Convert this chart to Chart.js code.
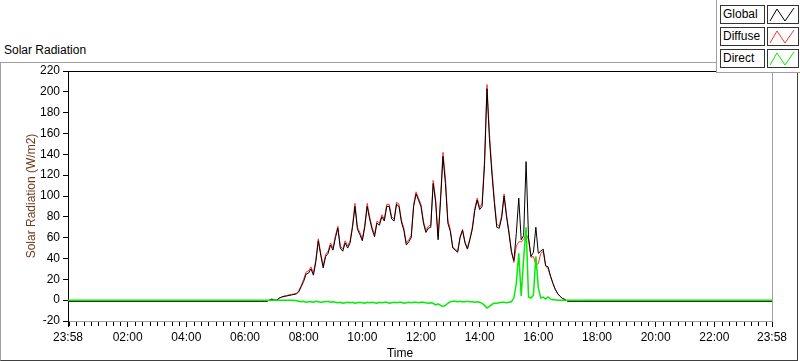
<!DOCTYPE html>
<html>
<head>
<meta charset="utf-8">
<script src="https://cdn.jsdelivr.net/npm/chart.js@4"></script>
<style>
body{margin:0;background:#fff;font-family:"Liberation Sans",Arial,sans-serif;font-size:12px;color:#000;}
#wrap{position:relative;width:800px;height:361px;overflow:hidden;}
#frame{position:absolute;left:0;top:62px;width:796px;height:297px;border:1px solid #a0a0a0;border-right-color:#404040;border-bottom-color:#404040;}
#title{position:absolute;left:4px;top:43px;}
#xtitle{position:absolute;left:0;width:800px;text-align:center;top:346px;}
#chart{position:absolute;left:0;top:0;}
#legend{position:absolute;left:716px;top:0;width:84px;height:72px;background:#fff;border-left:1px solid #a0a0a0;border-bottom:1px solid #a0a0a0;}
.row{position:absolute;left:3px;width:80px;height:19px;}
.name{position:absolute;left:0;top:0;width:41px;height:17px;border:1px solid #333;line-height:17px;padding-left:2px;box-sizing:content-box;}
.swatch{position:absolute;left:47px;top:0;width:30px;height:17px;border:1px solid #333;}
</style>
</head>
<body>
<div id="wrap">
  <div id="frame"></div>
  <div id="title">Solar Radiation</div>
  <canvas id="chart" width="800" height="361"></canvas>
  <div id="xtitle">Time</div>
  <div id="legend"></div>
</div>
<script>
// x axis: minutes from 23:58 (previous day) to 23:58
const xTickLabels = ['23:58','02:00','04:00','06:00','08:00','10:00','12:00','14:00','16:00','18:00','20:00','22:00','23:58'];

// daytime samples, every 5 minutes from 06:30 to 17:30
const dayStart = '06:30';
const stepMinutes = 5;
const nightGlobal = -1;
const nightDiffuse = -1;
const nightDirect = 0;

const globalVals = [
  -1,-1,-1,-1,0,1,0,0,2,3,
  3.5,4,4.5,5,5.5,6,8,13,18,25,
  26,30,24,37,57,43,31,42,45,53,
  48,60,69,50,47,55,50,55,70,90,
  68,63,57,70,90,78,68,61,74,72,
  80,76,90,90,78,76,92,90,75,67,
  53,56,60,90,102,96,90,74,65,69,
  70,112,94,58,95,138,112,74,66,50,
  48,46,60,67,55,49,58,68,86,96,
  87,90,130,203,155,122,94,70,69,79,
  100,80,64,46,38,64,98,58,62,133,
  60,42,46,70,45,47,49,33,32,23,
  16,10,6,3.5,1.5,0.5,-1,-1,-1,-1,
  -1,-1,-1
];
const diffuseVals = [
  -1,-1,-1,-1,0,1,0,0,2,3,
  4,4.5,5,5.5,6,6.5,9,14,20,27,
  28,32,26,39,59,45,33,44,47,55,
  50,62,71,52,49,57,52,57,72,93,
  70,65,59,72,93,80,70,63,76,74,
  82,78,92,92,80,78,94,92,77,69,
  55,58,62,92,104,98,92,76,67,71,
  72,115,97,61,99,142,117,77,68,51,
  49,47,61,68,56,50,59,70,88,98,
  89,93,135,207,160,126,97,73,71,81,
  102,82,66,48,36,52,56,56,58,64,
  58,41,42,34,35,45,47,33,30,23,
  16,10,6,3.5,1.5,0.5,-1,-1,-1,-1,
  -1,-1,-1
];
const directVals = [
  0,0,0,0,0,0,0,0,0,0,
  0,0,0,0,0,-0.5,-1,-1.5,-1,-2,
  -1.5,-1.5,-2,-1,-1.5,-2,-1.5,-1.5,-1,-2,
  -1.5,-2,-2.5,-2,-3,-2.5,-2,-2.5,-2,-3,
  -2.5,-2,-2.5,-3,-2,-2.5,-2,-2.5,-3,-2,
  -2.5,-2,-2,-3,-2.5,-2,-2.5,-2,-2,-3,
  -2.5,-2,-2.5,-2,-2,-2.5,-2,-2,-2.5,-3,
  -2.5,-3,-4.5,-3.5,-5,-6,-5,-3,-1.5,-1,
  -1,-1.5,-1,-1.5,-1.5,-1,-1.5,-1.5,-2,-1.5,
  -2,-3,-5,-7.5,-6,-4,-3,-3,-2.5,-2,
  -2,-2.5,-2,-1.5,2,16,45,4,40,70,
  3,2,5,42,12,2,3,1,3,1,
  0.5,0.5,0,0,0,0,0,0,0,0,
  0,0,0
];

function axisMinutes(label, last) {
  if (last) return 1440;
  const [h, m] = label.split(':').map(Number);
  return (h * 60 + m - (23 * 60 + 58) + 1440) % 1440;
}

const majorTicks = xTickLabels.map((l, i) => axisMinutes(l, i === xTickLabels.length - 1));
const startMin = axisMinutes(dayStart, false);

function series(vals, night) {
  let pts = [{x: 0, y: night}];
  for (let i = 0; i < vals.length; i++) {
    pts.push({x: startMin + i * stepMinutes, y: vals[i]});
  }
  pts.push({x: 1440, y: night});
  return pts;
}

const seriesNames = ['Global', 'Diffuse', 'Direct'];
const seriesColors = ['#000000', '#ff3030', '#00ee00'];

// legend boxes
const legend = document.getElementById('legend');
const rowTops = [5, 27, 49];
seriesNames.forEach((name, i) => {
  let row = document.createElement('div');
  row.className = 'row';
  row.style.top = rowTops[i] + 'px';
  row.innerHTML = '<div class="name">' + name + '</div>' +
    '<div class="swatch"><svg width="30" height="17"><polyline points="2,15 9,3 17,15 26,2" fill="none" stroke="' +
    seriesColors[i] + '" stroke-width="1"/></svg></div>';
  legend.appendChild(row);
});

const plotExtras = {
  id: 'plotExtras',
  afterDraw(chart) {
    const ctx = chart.ctx;
    const a = chart.chartArea;
    const xs = chart.scales.x;
    ctx.save();
    ctx.lineWidth = 1;
    // top and right edges of the plot
    ctx.strokeStyle = '#000';
    ctx.beginPath();
    ctx.moveTo(a.left, Math.round(a.top) + 0.5);
    ctx.lineTo(a.right, Math.round(a.top) + 0.5);
    ctx.stroke();
    ctx.strokeStyle = '#a0a0a0';
    ctx.beginPath();
    ctx.moveTo(Math.round(a.right) + 0.5, a.top);
    ctx.lineTo(Math.round(a.right) + 0.5, a.bottom);
    ctx.stroke();
    // minor ticks at the quarter hours
    ctx.strokeStyle = '#000';
    for (let m = 2; m < 1440; m += 15) {
      if (majorTicks.includes(m)) continue;
      const px = Math.round(xs.getPixelForValue(m)) + 0.5;
      ctx.beginPath();
      ctx.moveTo(px, a.bottom + 1);
      ctx.lineTo(px, a.bottom + 5);
      ctx.stroke();
    }
    ctx.restore();
  }
};

Chart.defaults.font.family = '"Liberation Sans", Arial, sans-serif';
Chart.defaults.font.size = 12;
Chart.defaults.color = '#000';

let config = {
  type: 'line',
  data: {
    datasets: [
      {label: 'Global', data: series(globalVals, nightGlobal), borderColor: seriesColors[0], borderWidth: 1, order: 1},
      {label: 'Diffuse', data: series(diffuseVals, nightDiffuse), borderColor: seriesColors[1], borderWidth: 1, order: 2},
      {label: 'Direct', data: series(directVals, nightDirect), borderColor: seriesColors[2], borderWidth: 1.5, order: 0}
    ]
  },
  options: {
    responsive: false,
    animation: false,
    devicePixelRatio: 1,
    parsing: false,
    elements: {point: {radius: 0}, line: {tension: 0}},
    layout: {padding: {left: 0, top: 71, right: 28, bottom: 0}},
    plugins: {
      legend: {display: false},
      tooltip: {enabled: false}
    },
    scales: {
      x: {
        type: 'linear',
        min: 0,
        max: 1440,
        afterBuildTicks: (s) => { s.ticks = majorTicks.map(v => ({value: v})); },
        afterFit: (s) => { s.height = 40; },
        ticks: {
          autoSkip: false,
          maxRotation: 0,
          padding: 3,
          color: '#000',
          callback: (v, i) => xTickLabels[i]
        },
        grid: {drawOnChartArea: false, drawTicks: true, tickLength: 6, color: '#000'},
        border: {display: true, color: '#a0a0a0'}
      },
      y: {
        min: -20,
        max: 220,
        afterFit: (s) => { s.width = 68; },
        ticks: {stepSize: 20, padding: 3, color: '#000'},
        grid: {drawOnChartArea: false, drawTicks: true, tickLength: 5, color: '#000'},
        border: {display: true, color: '#000'},
        title: {
          display: true,
          text: 'Solar Radiation (W/m2)',
          color: '#6e3b1c',
          padding: {top: 24, bottom: 0}
        }
      }
    }
  },
  plugins: [plotExtras]
};

new Chart(document.getElementById('chart'), config);
</script>
</body>
</html>
